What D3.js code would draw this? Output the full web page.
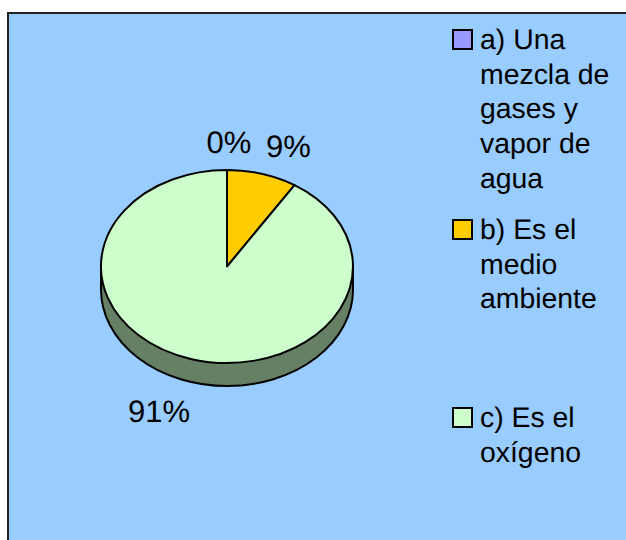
<!DOCTYPE html>
<html>
<head>
<meta charset="utf-8">
<script src="https://cdn.jsdelivr.net/npm/d3@7"></script>
<style>
  html, body { margin: 0; padding: 0; background: #fff; }
  svg { display: block; }
  text { font-family: "Liberation Sans", Arial, sans-serif; font-size: 28.4px; fill: #000; text-rendering: geometricPrecision; }
  .value-label { font-size: 31px; }
</style>
</head>
<body>
<div id="chart"></div>
<script>
const categories = ["a) Una mezcla de gases y vapor de agua", "b) Es el medio ambiente", "c) Es el oxígeno"];
const legendLines = [
    ["a) Una", "mezcla de", "gases y", "vapor de", "agua"],
    ["b) Es el", "medio", "ambiente"],
    ["c) Es el", "oxígeno"]
];
const values = [0, 9, 91];
const colors = ["#9999FF", "#FFCC00", "#CCFFCC"];
const sideColor = "#668066";
const valueLabels = ["0%", "9%", "91%"];

const w = 626,
    h = 540,
    cx = 227,
    cy = 266.5,
    rx = 126,
    ry = 96.5,
    depth = 23;

const svg = d3.select("#chart").append("svg")
    .attr("width", w)
    .attr("height", h);

// panel runs off the right and bottom of the picture
svg.append("rect")
    .attr("x", 8)
    .attr("y", 13)
    .attr("width", w + 10)
    .attr("height", h)
    .attr("fill", "#99CCFF")
    .attr("stroke", "#222")
    .attr("stroke-width", 2);

const pie = d3.pie().sort(null).value(d => d);
const slices = pie(values);
const arc = d3.arc().innerRadius(0).outerRadius(1);

// side wall, only the front half shows
svg.append("path")
    .attr("d", `M${cx - rx},${cy} L${cx - rx},${cy + depth} A${rx},${ry} 0 0 0 ${cx + rx},${cy + depth} L${cx + rx},${cy} Z`)
    .attr("fill", sideColor)
    .attr("stroke", "#000")
    .attr("stroke-width", 2);

svg.append("g")
    .attr("transform", `translate(${cx},${cy}) scale(${rx},${ry})`)
    .selectAll("path")
    .data(slices)
    .enter()
    .append("path")
    .attr("d", arc)
    .attr("fill", (d, i) => colors[i])
    .attr("stroke", "#000")
    .attr("stroke-width", 2)
    .attr("stroke-linejoin", "round")
    .attr("vector-effect", "non-scaling-stroke");

// value labels are placed by hand like the office chart did
const labelPos = [[206.5, 153], [266, 157], [128, 422]];
svg.selectAll(".value-label")
    .data(valueLabels)
    .enter()
    .append("text")
    .attr("class", "value-label")
    .attr("x", (d, i) => labelPos[i][0])
    .attr("y", (d, i) => labelPos[i][1])
    .text(d => d);

const legendTop = [30, 220, 408];
const lineHeight = 34.7;

const legend = svg.selectAll(".legend")
    .data(categories)
    .enter()
    .append("g")
    .attr("class", "legend")
    .attr("transform", (d, i) => `translate(453,${legendTop[i]})`);

legend.append("rect")
    .attr("width", 19)
    .attr("height", 19)
    .attr("fill", (d, i) => colors[i])
    .attr("stroke", "#000")
    .attr("stroke-width", 2);

legend.append("text")
    .attr("x", 27)
    .attr("y", 19)
    .selectAll("tspan")
    .data((d, i) => legendLines[i])
    .enter()
    .append("tspan")
    .attr("x", 27)
    .attr("dy", (d, i) => i ? lineHeight : 0)
    .text(d => d);
</script>
</body>
</html>
